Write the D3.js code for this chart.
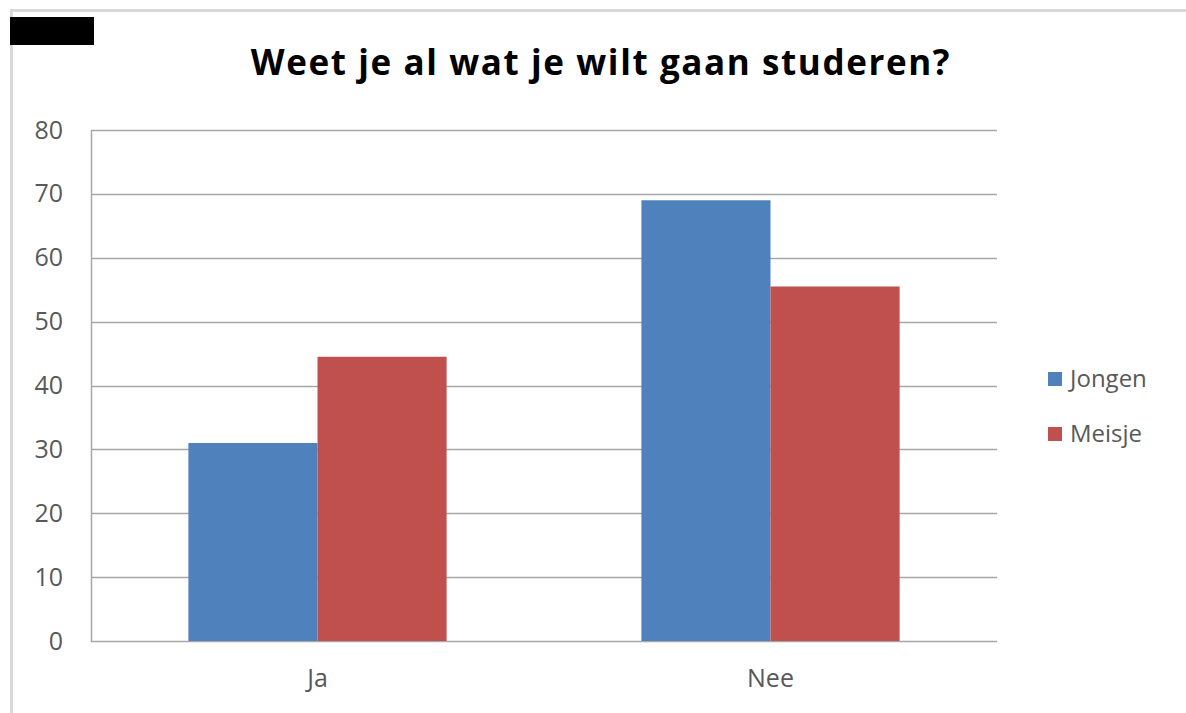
<!DOCTYPE html>
<html><head><meta charset="utf-8">
<script src="https://cdn.jsdelivr.net/npm/d3@7"></script>
<style>body{margin:0;background:#fff;} svg{display:block;}</style>
</head><body>
<svg id="chart" width="1186" height="713"></svg>
<script>
const categories = ["Ja", "Nee"];
const seriesNames = ["Jongen", "Meisje"];
const jongen = [31, 69];
const meisje = [44.5, 55.5];
const yTicks = [0, 10, 20, 30, 40, 50, 60, 70, 80];
const colors = ["#4f81bd", "#c0504d"];
const title = "Weet je al wat je wilt gaan studeren?";

const svg = d3.select("#chart");
const font = "'Open Sans', 'Noto Sans', sans-serif";

// frame
svg.append("rect").attr("x", 11.5).attr("y", 10.5).attr("width", 1186).attr("height", 720)
  .attr("fill", "#fff").attr("stroke", "#d9d9d9").attr("stroke-width", 3);
svg.append("rect").attr("x", 10).attr("y", 17).attr("width", 84).attr("height", 28).attr("fill", "#000");

const m = {left: 91, right: 997, top: 130, bottom: 641};
const y = d3.scaleLinear().domain([0, 80]).range([m.bottom, m.top]);
const x0 = d3.scaleBand().domain(categories).range([m.left, m.right]).paddingInner(0.43).paddingOuter(0.215);
const x1 = d3.scaleBand().domain(seriesNames).range([0, x0.bandwidth()]);

// gridlines
svg.append("g").selectAll("line").data(yTicks).join("line")
  .attr("x1", m.left).attr("x2", m.right)
  .attr("y1", d => Math.round(y(d)) + 0.5).attr("y2", d => Math.round(y(d)) + 0.5)
  .attr("stroke", "#a6a6a6").attr("stroke-width", 1.5);

// bars
const data = categories.map((c, i) => ({cat: c, vals: [jongen[i], meisje[i]]}));
svg.append("g").selectAll("g").data(data).join("g")
  .attr("transform", d => `translate(${x0(d.cat)},0)`)
  .selectAll("rect").data(d => d.vals.map((v, j) => ({s: seriesNames[j], v, j}))).join("rect")
  .attr("x", d => x1(d.s)).attr("width", x1.bandwidth())
  .attr("y", d => y(d.v)).attr("height", d => y(0) - y(d.v))
  .attr("fill", d => colors[d.j]);

// y axis line
svg.append("line").attr("x1", m.left + 0.5).attr("x2", m.left + 0.5)
  .attr("y1", m.top).attr("y2", m.bottom + 1).attr("stroke", "#a6a6a6").attr("stroke-width", 1.5);

// y tick labels
const yAxis = d3.axisLeft(y).tickValues(yTicks).tickSize(0).tickPadding(28);
const ya = svg.append("g").attr("transform", `translate(${m.left},0)`).call(yAxis);
ya.select(".domain").remove();
ya.selectAll("text").attr("font-family", font).attr("font-size", 25).attr("fill", "#595959");

// x labels
const xAxis = d3.axisBottom(x0).tickSize(0).tickPadding(28);
const xa = svg.append("g").attr("transform", `translate(0,${m.bottom})`).call(xAxis);
xa.select(".domain").remove();
xa.selectAll("text").attr("font-family", font).attr("font-size", 25).attr("fill", "#595959");

// title
svg.append("text").attr("x", 601).attr("y", 75).attr("text-anchor", "middle")
  .attr("font-family", font).attr("font-weight", "bold").attr("font-size", 35)
  .attr("letter-spacing", 1.6).attr("fill", "#000")
  .text(title);

// legend
const lg = svg.append("g").selectAll("g").data(seriesNames).join("g")
  .attr("transform", (d, i) => `translate(1048,${372 + i * 55})`);
lg.append("rect").attr("width", 14).attr("height", 14).attr("fill", (d, i) => colors[i]);
lg.append("text").attr("x", 22).attr("y", 15).attr("font-family", font).attr("font-size", 24)
  .attr("fill", "#595959").text(d => d);
</script>
</body></html>
